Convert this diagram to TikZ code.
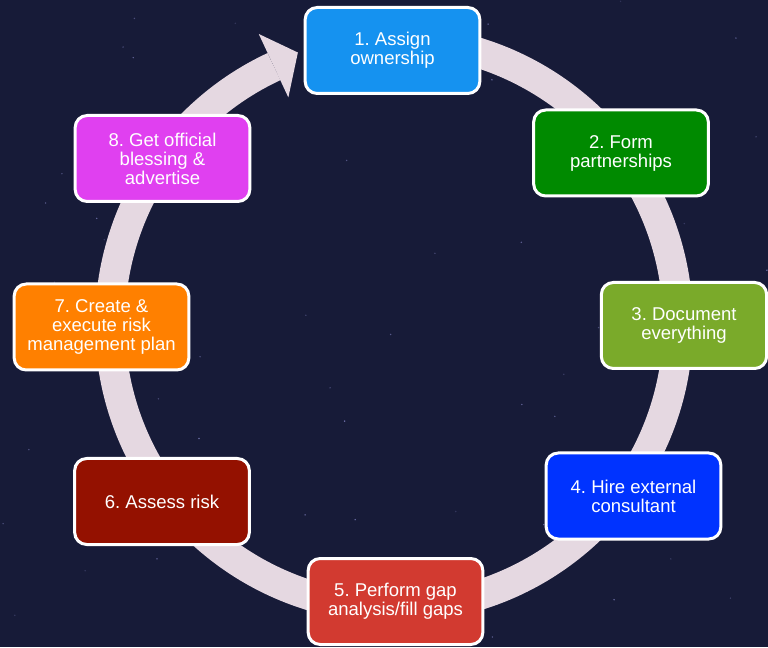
\documentclass[tikz,border=0pt]{standalone}
\usepackage{fontspec}
\setmainfont{Liberation Sans}

\definecolor{nightsky}{RGB}{23,27,56}
\definecolor{ringpink}{RGB}{229,216,225}
\definecolor{skyblue}{RGB}{21,146,240}
\definecolor{leafgreen}{RGB}{0,138,0}
\definecolor{olivegreen}{RGB}{122,170,42}
\definecolor{royalblue}{RGB}{0,51,255}
\definecolor{brickred}{RGB}{210,58,48}
\definecolor{darkred}{RGB}{148,17,0}
\definecolor{brightorange}{RGB}{255,128,0}
\definecolor{magentapink}{RGB}{224,64,240}

\begin{document}
\begin{tikzpicture}[x=0.75pt,y=0.75pt,
		task/.style={draw=white, line width=2.25pt, rounded corners=9pt,
			minimum width=131pt, minimum height=64.5pt, align=center,
			text=white, font=\fontsize{13.9}{14.3}\selectfont\frenchspacing},
		ring/.style={draw=ringpink, line width=22.5pt}]
	% sky
	\fill[nightsky] (0,0) rectangle (768,647);
	\useasboundingbox (0,0) rectangle (768,647);
	\pgfmathsetseed{7}
	\foreach \i in {1,...,70} {
		\pgfmathsetmacro{\sx}{768*rnd}
		\pgfmathsetmacro{\sy}{647*rnd}
		\pgfmathsetmacro{\so}{0.15+0.45*rnd}
		\fill[white!70!blue, opacity=\so] (\sx,\sy) circle (0.6pt);
	}
	% cycle arrow
	\coordinate (hub) at (394,323);
	\draw[ring] (hub) ++(95:284) arc[start angle=95, end angle=-245, radius=284];
	\fill[ringpink, shift={(hub)}] (115:250) -- (115:320) -- (109.5:288) -- cycle;
	% steps
	\node[task, fill=skyblue] (assign) at (392.5,596.5) {1. Assign\\ownership};
	\node[task, fill=leafgreen] (partner) at (621,494) {2. Form\\partnerships};
	\node[task, fill=olivegreen, minimum width=124pt] (document) at (684,321.5) {3. Document\\everything};
	\node[task, fill=royalblue] (consult) at (633.5,151) {4. Hire external\\consultant};
	\node[task, fill=brickred] (gaps) at (395.5,45.5) {5. Perform gap\\analysis/fill gaps};
	\node[task, fill=darkred] (risk) at (162,145.5) {6. Assess risk};
	\node[task, fill=brightorange] (plan) at (101.5,320) {7. Create \&\\execute risk\\management plan};
	\node[task, fill=magentapink] (bless) at (162.5,488.5) {8. Get official\\blessing \&\\advertise};
\end{tikzpicture}
\end{document}
